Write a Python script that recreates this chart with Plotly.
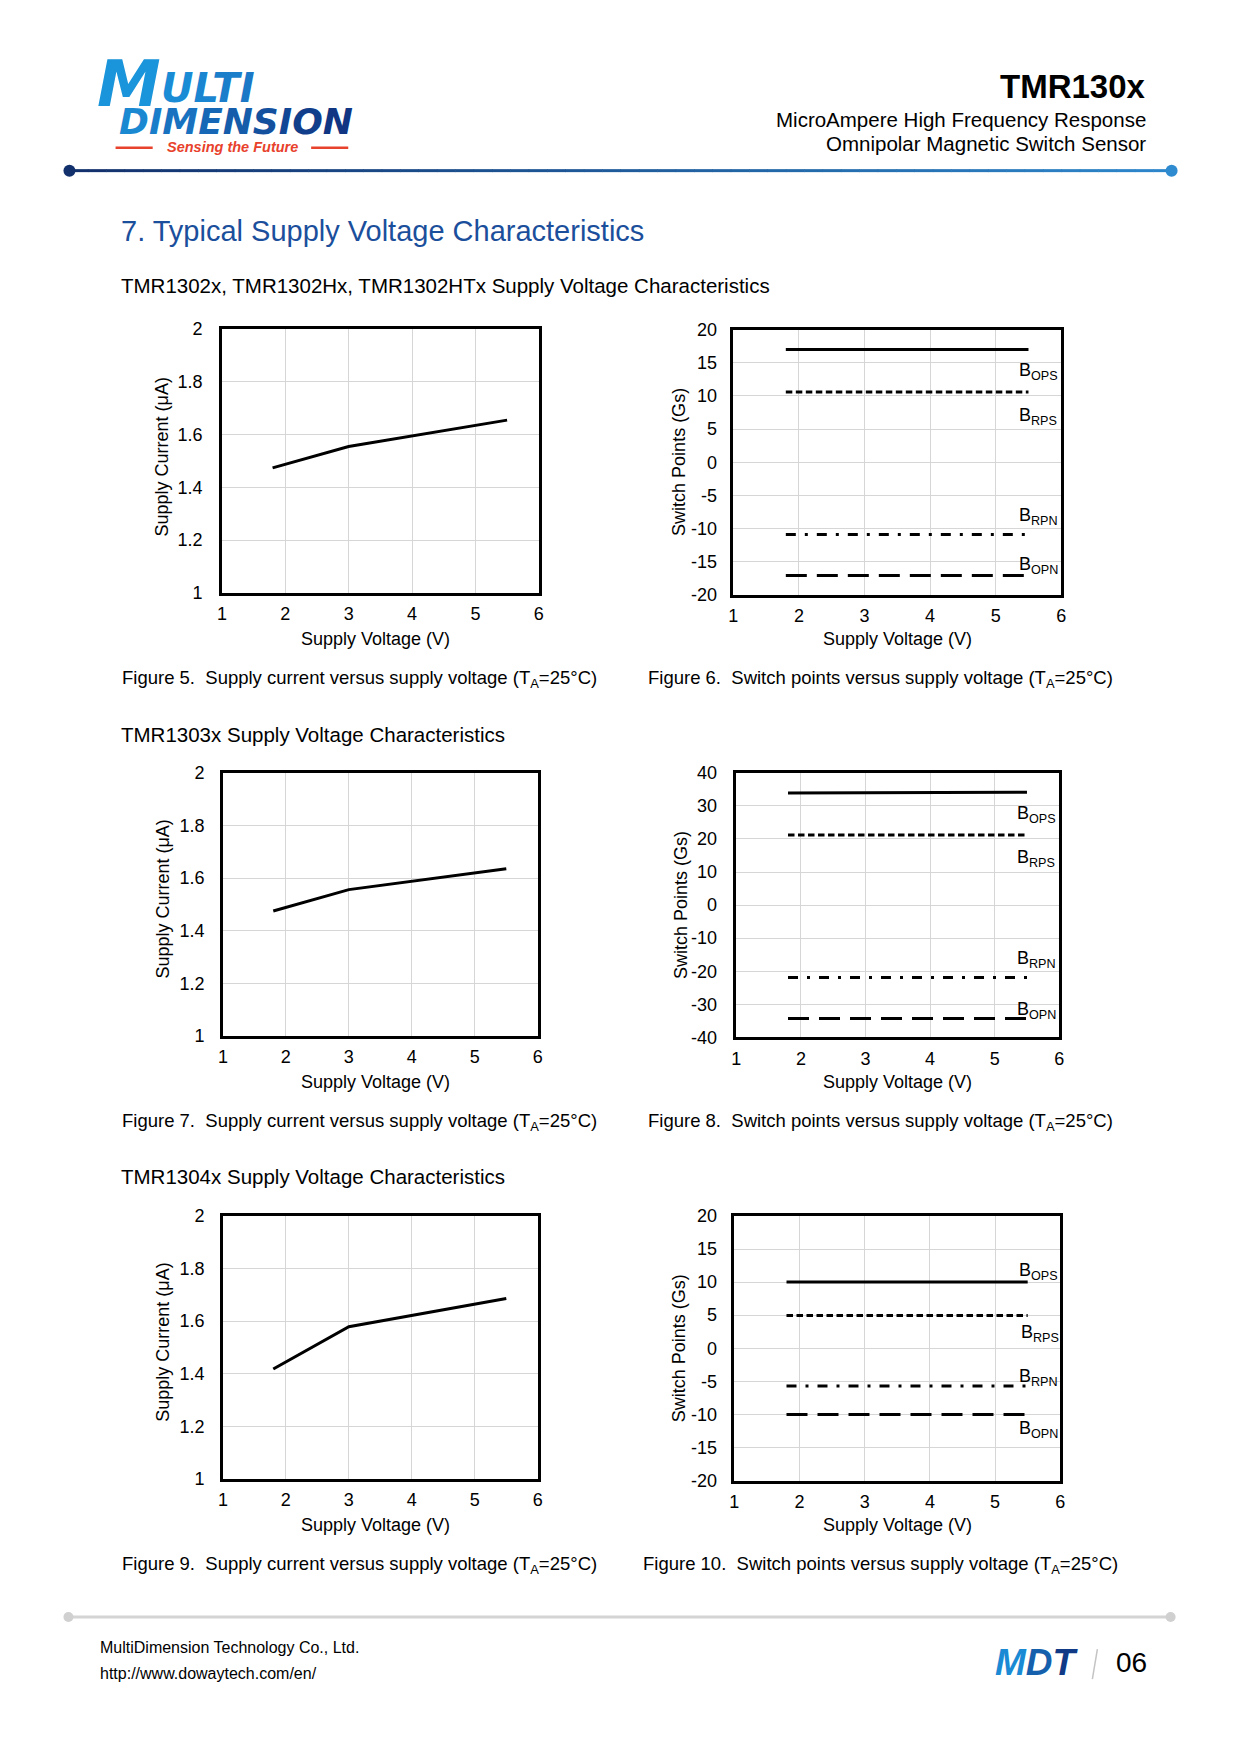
import plotly.graph_objects as go

# Page geometry (the photo of the page turned out slightly inset; an affine
# correction measured from an earlier render is applied to page positions).
PAGE_W, PAGE_H = 1240, 1754
OFF = 8
W, H = PAGE_W - 2 * OFF, PAGE_H - 2 * OFF
AX, BX = 6.8, 0.989
AY, BY = 8.5, 0.9882
FONT = "Liberation Sans, Arial, sans-serif"

# ---------------- data ----------------
voltage = [1.8, 3.0, 5.5]
x_ticks = [1, 2, 3, 4, 5, 6]

current_1302 = [1.474, 1.555, 1.655]
current_1303 = [1.475, 1.556, 1.635]
current_1304 = [1.418, 1.579, 1.686]
current_ticks = [1.0, 1.2, 1.4, 1.6, 1.8, 2.0]
current_tick_text = ["1", "1.2", "1.4", "1.6", "1.8", "2"]

bops_1302 = [17.0, 17.0, 17.0]
brps_1302 = [10.6, 10.6, 10.6]
brpn_1302 = [-10.9, -10.9, -10.9]
bopn_1302 = [-17.1, -17.1, -17.1]

bops_1303 = [33.9, 34.0, 34.1]
brps_1303 = [21.2, 21.2, 21.2]
brpn_1303 = [-21.9, -21.9, -21.9]
bopn_1303 = [-34.3, -34.3, -34.3]

bops_1304 = [10.0, 10.0, 10.0]
brps_1304 = [4.95, 4.95, 4.95]
brpn_1304 = [-5.7, -5.7, -5.7]
bopn_1304 = [-10.0, -10.0, -10.0]

switch_ticks_20 = [-20, -15, -10, -5, 0, 5, 10, 15, 20]
switch_tick_text_20 = ["-20", "-15", "-10", "-5", "0", "5", "10", "15", "20"]
switch_ticks_40 = [-40, -30, -20, -10, 0, 10, 20, 30, 40]
switch_tick_text_40 = ["-40", "-30", "-20", "-10", "0", "10", "20", "30", "40"]

series_names = ["B<sub>OPS</sub>", "B<sub>RPS</sub>", "B<sub>RPN</sub>", "B<sub>OPN</sub>"]

# ---------------- layout helpers ----------------
def X(px):
    p = (px - AX) / BX
    return (p - OFF) / W

def Y(py):
    p = (py - AY) / BY
    return 1 - (p - OFF) / H

annotations = []
shapes = []

def txt(text, x, y, size, color="#000000", xanchor="left", family=FONT, **kw):
    annotations.append(dict(text=text, x=X(x), y=Y(y), xref="paper", yref="paper",
                            xanchor=xanchor, yanchor="middle", showarrow=False,
                            font=dict(size=size, color=color, family=family), **kw))

fig = go.Figure()

DY = -2  # small vertical nudge for the plot blocks
# plot boxes: left, top, right, bottom (page px)
boxes = [
    (222, 329.5, 538, 593),
    (732, 330, 1059, 595),
    (223, 773, 537, 1036),
    (735, 773, 1057, 1037.5),
    (223, 1216, 537, 1479),
    (733, 1216, 1058, 1480.5),
]
ylab_standoff = [13, 10, 12, 13, 12, 11]

axis_font = dict(size=18, color="#000000", family=FONT)

for i, (l, t, r, b) in enumerate(boxes):
    n = i + 1
    is_current = (i % 2 == 0)
    xa = dict(domain=[X(l + 1), X(r + 1)], range=[1, 6], tickvals=x_ticks, showgrid=True,
              gridcolor="#d6d6d6", gridwidth=1, showline=True, linecolor="#000000",
              linewidth=2.5, mirror=True, ticks="", zeroline=False, tickfont=axis_font,
              anchor="y%d" % n, ticklabelstandoff=3, fixedrange=True)
    if is_current:
        ya = dict(range=[1, 2], tickvals=current_ticks, ticktext=current_tick_text)
    elif i == 3:
        ya = dict(range=[-40, 40], tickvals=switch_ticks_40, ticktext=switch_tick_text_40)
    else:
        ya = dict(range=[-20, 20], tickvals=switch_ticks_20, ticktext=switch_tick_text_20)
    ya.update(domain=[Y(b + DY), Y(t + DY)], showgrid=True, gridcolor="#d6d6d6", gridwidth=1,
              showline=True, linecolor="#000000", linewidth=2.5, mirror=True, ticks="",
              zeroline=False, tickfont=axis_font, anchor="x%d" % n,
              ticklabelstandoff=ylab_standoff[i], fixedrange=True)
    key = "" if n == 1 else str(n)
    fig.update_layout(**{"xaxis" + key: xa, "yaxis" + key: ya})

def add_line(n, y, dash="solid", width=3):
    fig.add_trace(go.Scatter(x=voltage, y=y, mode="lines",
                             line=dict(color="#000000", width=width, dash=dash),
                             xaxis="x%d" % n if n > 1 else "x",
                             yaxis="y%d" % n if n > 1 else "y",
                             showlegend=False, hoverinfo="skip"))

add_line(1, current_1302)
add_line(3, current_1303)
add_line(5, current_1304)

dashes = ["solid", "6.5px,3.5px", "10px,9px,3px,9px", "21px,10px"]
for n, series in [(2, [bops_1302, brps_1302, brpn_1302, bopn_1302]),
                  (4, [bops_1303, brps_1303, brpn_1303, bopn_1303]),
                  (6, [bops_1304, brps_1304, brpn_1304, bopn_1304])]:
    for s, d in zip(series, dashes):
        add_line(n, s, dash=d)

# series labels (data coordinates)
label_pos = {
    2: [(5.33, 13.66), (5.33, 6.87), (5.33, -8.2), (5.33, -15.6)],
    4: [(5.32, 27.4), (5.32, 14.0), (5.32, -16.55), (5.32, -31.75)],
    6: [(5.34, 11.65), (5.36, 2.24), (5.34, -4.45), (5.33, -12.3)],
}
for n, plist in label_pos.items():
    for name, (lx, ly) in zip(series_names, plist):
        annotations.append(dict(text=name, x=lx, y=ly, xref="x%d" % n, yref="y%d" % n,
                                xanchor="left", yanchor="middle", showarrow=False,
                                font=dict(size=18, color="#000000", family=FONT)))

# axis titles
for (xc, yc) in [(375, 639), (896, 639), (375, 1082), (896, 1082), (375, 1525), (896, 1525)]:
    txt("Supply Voltage (V)", xc + 1, yc + DY, 18, xanchor="center")
for (xc, yc) in [(162, 457), (163, 899), (163, 1342)]:
    txt("Supply Current (μA)", xc + 1, yc + DY, 18, xanchor="center", textangle=-90)
for (xc, yc) in [(678, 462), (680, 905), (678, 1348)]:
    txt("Switch Points (Gs)", xc + 1, yc + DY, 18, xanchor="center", textangle=-90)

# captions
cap_a = "Figure %d.  Supply current versus supply voltage (T<sub>A</sub>=25°C)"
cap_b = "Figure %d.  Switch points versus supply voltage (T<sub>A</sub>=25°C)"
txt(cap_a % 5, 121, 677, 18.5)
txt(cap_b % 6, 646, 677, 18.5)
txt(cap_a % 7, 121, 1120, 18.5)
txt(cap_b % 8, 646, 1120, 18.5)
txt(cap_a % 9, 121, 1563, 18.5)
txt(cap_b % 10, 641, 1563, 18.5)

# headings
txt("7. Typical Supply Voltage Characteristics", 120, 229.5, 29, color="#1b4f9c")
txt("TMR1302x, TMR1302Hx, TMR1302HTx Supply Voltage Characteristics", 120, 284, 20.5)
txt("TMR1303x Supply Voltage Characteristics", 120, 732.5, 20.5)
txt("TMR1304x Supply Voltage Characteristics", 120, 1175, 20.5)

# header right
txt("<b>TMR130x</b>", 1146, 85, 33, xanchor="right")
txt("MicroAmpere High Frequency Response", 1146, 117.5, 20.5, xanchor="right")
txt("Omnipolar Magnetic Switch Sensor", 1146, 142, 20.5, xanchor="right")

# logo
LOGO_FONT = "DejaVu Sans"
txt("<b><i>M</i></b>", 96, 82, 64, color="#1a94da", family=LOGO_FONT)
ulti_cols = ["#1a8cd6", "#1a85d0", "#1a7ecb", "#1a78c6"]
txt("<b><i>" + "".join('<span style="color:%s">%s</span>' % (c, ch)
                       for c, ch in zip(ulti_cols, "ULTI")) + "</i></b>",
    160, 86, 40, family=LOGO_FONT)
dim_cols = ["#1b88d2", "#1a7dca", "#1872c0", "#1667b5", "#155caa", "#13519f",
            "#124795", "#113e8b", "#103683"]
txt("<b><i>" + "".join('<span style="color:%s">%s</span>' % (c, ch)
                       for c, ch in zip(dim_cols, "DIMENSION")) + "</i></b>",
    118, 120, 36, family=LOGO_FONT)
txt("<b><i>Sensing the Future</i></b>", 166, 145.5, 14.5, color="#e8412c")
for (a, b2) in [(117, 154), (312, 349)]:
    shapes.append(dict(type="line", xref="paper", yref="paper", x0=X(a), x1=X(b2),
                       y0=Y(146), y1=Y(146), line=dict(color="#e8412c", width=2.5)))

# header gradient rule
def lerp_col(c0, c1, t):
    a = [int(c0[k:k + 2], 16) for k in (1, 3, 5)]
    b = [int(c1[k:k + 2], 16) for k in (1, 3, 5)]
    return "#%02x%02x%02x" % tuple(int(round(a[j] + (b[j] - a[j]) * t)) for j in range(3))

x_start, x_end, nseg = 71, 1170, 60
for k in range(nseg):
    xa0 = x_start + (x_end - x_start) * k / nseg
    xa1 = x_start + (x_end - x_start) * (k + 1) / nseg + 0.6
    col = lerp_col("#12306b", "#2d87cb", (k + 0.5) / nseg)
    shapes.append(dict(type="line", xref="paper", yref="paper", x0=X(xa0), x1=X(xa1),
                       y0=Y(169), y1=Y(169), line=dict(color=col, width=3)))
for (cx, cy, r, col) in [(71, 169, 6, "#12306b"), (1170, 169, 6, "#2f8bd0")]:
    shapes.append(dict(type="circle", xref="paper", yref="paper", x0=X(cx - r), x1=X(cx + r),
                       y0=Y(cy + r), y1=Y(cy - r), fillcolor=col, line=dict(width=0)))

# footer
shapes.append(dict(type="line", xref="paper", yref="paper", x0=X(70), x1=X(1169),
                   y0=Y(1615), y1=Y(1615), line=dict(color="#d4d4d4", width=3)))
for cx in (70, 1169):
    shapes.append(dict(type="circle", xref="paper", yref="paper", x0=X(cx - 5), x1=X(cx + 5),
                       y0=Y(1620), y1=Y(1610), fillcolor="#d0d0d0", line=dict(width=0)))
txt("MultiDimension Technology Co., Ltd.", 99, 1645.5, 16)
txt("http://www.dowaytech.com/en/", 99, 1671.5, 16)
mdt_cols = ["#1a8ad4", "#1560ad", "#103a85"]
txt("<b><i>" + "".join('<span style="color:%s">%s</span>' % (c, ch)
                       for c, ch in zip(mdt_cols, "MDT")) + "</i></b>",
    992, 1660, 37)
shapes.append(dict(type="line", xref="paper", yref="paper", x0=X(1096), x1=X(1091),
                   y0=Y(1647), y1=Y(1677), line=dict(color="#c4c4c4", width=1.5)))
txt("06", 1113, 1660, 28)

fig.update_layout(width=W, height=H, margin=dict(l=0, r=0, t=0, b=0),
                  paper_bgcolor="white", plot_bgcolor="white",
                  annotations=annotations, shapes=shapes, showlegend=False,
                  font=dict(family=FONT, color="#000000"))

fig.write_html("out.html", config={"displayModeBar": False})
